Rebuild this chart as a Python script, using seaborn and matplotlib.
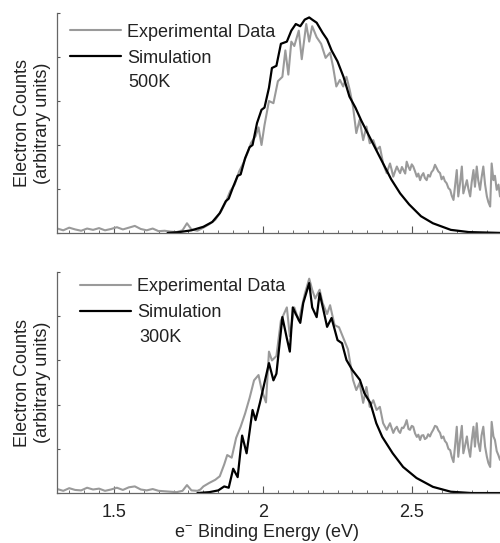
import pandas as pd
import seaborn as sns
import matplotlib.pyplot as plt
from matplotlib.ticker import MultipleLocator, FuncFormatter

# values (x in eV, y in arbitrary units, axis 0..5)
top_exp_x = [1.31, 1.33, 1.35, 1.37, 1.39, 1.41, 1.43, 1.45, 1.47, 1.49, 1.51, 1.53, 1.55, 1.57, 1.59,
             1.61, 1.63, 1.65, 1.67, 1.69, 1.71, 1.73, 1.745, 1.76, 1.78, 1.80, 1.82, 1.84, 1.86, 1.875,
             1.89, 1.905, 1.92, 1.935, 1.95, 1.96, 1.975, 1.985, 1.995, 2.005, 2.02, 2.035, 2.05, 2.065,
             2.075, 2.085, 2.095, 2.105, 2.12, 2.13, 2.145, 2.155, 2.165, 2.18, 2.195, 2.21,
             2.225, 2.235, 2.246, 2.258, 2.269, 2.280, 2.291, 2.302, 2.313, 2.324, 2.336, 2.347, 2.358,
             2.370, 2.381, 2.392, 2.403, 2.415, 2.426, 2.431, 2.437, 2.443, 2.449, 2.455, 2.460, 2.466,
             2.471, 2.477, 2.482, 2.488, 2.493, 2.499, 2.504, 2.510, 2.516, 2.521, 2.527, 2.532, 2.538,
             2.543, 2.549, 2.554, 2.560, 2.565, 2.571, 2.577, 2.583, 2.588, 2.594, 2.599, 2.605, 2.610,
             2.616, 2.622, 2.628, 2.633, 2.639, 2.644, 2.650, 2.655, 2.661, 2.667, 2.672, 2.678, 2.684,
             2.689, 2.695, 2.700, 2.706, 2.711, 2.717, 2.722, 2.728, 2.733, 2.739, 2.745, 2.751, 2.756,
             2.762, 2.767, 2.773, 2.778, 2.784, 2.790, 2.795]
top_exp_y = [0.10, 0.06, 0.12, 0.08, 0.05, 0.10, 0.07, 0.11, 0.06, 0.09, 0.13, 0.08, 0.12, 0.16, 0.09,
             0.06, 0.10, 0.04, 0.05, 0.03, 0.02, 0.06, 0.22, 0.08, 0.05, 0.12, 0.20, 0.30, 0.50, 0.70,
             0.95, 1.10, 1.40, 1.60, 1.85, 2.05, 2.20, 2.40, 2.00, 2.45, 3.00, 2.95, 3.45, 3.55,
             4.15, 3.60, 4.35, 4.25, 4.60, 3.95, 4.75, 4.35, 4.70, 4.45, 4.30, 3.98,
             4.10, 3.78, 3.33, 3.48, 3.33, 3.55, 3.25, 2.87, 2.27, 2.57, 2.11, 2.42, 2.04,
             2.11, 1.89, 1.96, 1.58, 1.36, 1.58, 1.45, 1.28, 1.40, 1.51, 1.42, 1.36, 1.50,
             1.43, 1.35, 1.62, 1.50, 1.43, 1.56, 1.51, 1.40, 1.28, 1.35, 1.20, 1.30, 1.36,
             1.25, 1.20, 1.32, 1.28, 1.38, 1.43, 1.55, 1.47, 1.40, 1.36, 1.22, 1.28, 1.18,
             1.13, 1.02, 0.98, 0.85, 0.75, 1.05, 1.43, 0.83, 1.13, 1.51, 0.90, 1.05, 1.20,
             1.00, 0.83, 1.15, 1.43, 1.05, 1.51, 1.20, 0.98, 1.25, 1.51, 1.10, 0.83, 0.70,
             0.60, 1.58, 1.20, 1.30, 0.98, 1.10, 0.83]

top_sim_x = [1.68, 1.72, 1.76, 1.80, 1.83, 1.855, 1.875, 1.885, 1.90, 1.915, 1.925, 1.94, 1.955, 1.965,
             1.98, 1.995, 2.005, 2.02, 2.03, 2.045, 2.06, 2.08, 2.095, 2.11, 2.125, 2.14, 2.155, 2.165,
             2.18, 2.20, 2.215, 2.23, 2.25, 2.27, 2.29, 2.31, 2.33, 2.36, 2.39, 2.43, 2.46, 2.49, 2.53,
             2.57, 2.63, 2.69, 2.80]
top_sim_y = [0.0, 0.02, 0.06, 0.14, 0.25, 0.45, 0.72, 0.78, 1.05, 1.30, 1.33, 1.70, 1.95, 2.00,
             2.50, 2.80, 2.85, 3.30, 3.75, 3.80, 4.30, 4.35, 4.60, 4.75, 4.70, 4.85, 4.90, 4.85,
             4.78, 4.55, 4.40, 4.15, 3.90, 3.55, 3.10, 2.85, 2.55, 2.15, 1.75, 1.22, 0.90, 0.65, 0.38,
             0.22, 0.07, 0.02, 0.0]

bot_exp_x = [1.31, 1.33, 1.35, 1.37, 1.39, 1.41, 1.43, 1.45, 1.47, 1.49, 1.51, 1.53, 1.55, 1.57, 1.59,
             1.61, 1.63, 1.65, 1.67, 1.69, 1.71, 1.73, 1.745, 1.76, 1.78, 1.79, 1.80, 1.82, 1.84, 1.855,
             1.87, 1.88, 1.895, 1.91, 1.925, 1.94, 1.955, 1.97, 1.985, 1.995, 2.01, 2.02, 2.03, 2.045,
             2.06, 2.08, 2.09, 2.105, 2.12, 2.14, 2.155, 2.165, 2.175, 2.19, 2.20, 2.215,
             2.225, 2.24, 2.255, 2.27, 2.285, 2.302, 2.313, 2.324, 2.336, 2.347, 2.358,
             2.370, 2.381, 2.392, 2.403, 2.415, 2.426, 2.431, 2.437, 2.443, 2.449, 2.455, 2.460, 2.466,
             2.471, 2.477, 2.482, 2.488, 2.493, 2.499, 2.504, 2.510, 2.516, 2.521, 2.527, 2.532, 2.538,
             2.543, 2.549, 2.554, 2.560, 2.565, 2.571, 2.577, 2.583, 2.588, 2.594, 2.599, 2.605, 2.610,
             2.616, 2.622, 2.628, 2.633, 2.639, 2.644, 2.650, 2.655, 2.661, 2.667, 2.672, 2.678, 2.684,
             2.689, 2.695, 2.700, 2.706, 2.711, 2.717, 2.722, 2.728, 2.733, 2.739, 2.745, 2.751, 2.756,
             2.762, 2.767, 2.773, 2.778, 2.784, 2.790, 2.795]
bot_exp_y = [0.09, 0.05, 0.11, 0.07, 0.06, 0.12, 0.08, 0.10, 0.05, 0.08, 0.12, 0.07, 0.13, 0.15, 0.08,
             0.06, 0.09, 0.05, 0.04, 0.03, 0.02, 0.05, 0.18, 0.06, 0.05, 0.08, 0.15, 0.23, 0.30, 0.38,
             0.65, 0.86, 0.80, 1.25, 1.50, 1.80, 2.15, 2.55, 2.67, 2.35, 2.05, 3.20, 3.00, 3.10,
             3.90, 4.20, 3.55, 4.20, 3.90, 4.50, 4.85, 4.60, 4.40, 4.60, 4.30, 4.05,
             4.25, 3.80, 3.75, 3.50, 3.25, 2.56, 2.33, 2.49, 2.04, 2.40, 1.95,
             2.10, 1.88, 1.95, 1.58, 1.43, 1.58, 1.48, 1.36, 1.45, 1.50, 1.40, 1.36, 1.48,
             1.47, 1.55, 1.65, 1.45, 1.43, 1.52, 1.50, 1.35, 1.27, 1.32, 1.20, 1.30, 1.31,
             1.22, 1.25, 1.33, 1.28, 1.36, 1.43, 1.52, 1.50, 1.42, 1.36, 1.24, 1.28, 1.18,
             1.13, 1.00, 0.97, 0.82, 0.70, 1.05, 1.50, 0.82, 1.20, 1.52, 0.90, 1.08, 1.28,
             1.02, 0.82, 1.18, 1.50, 1.05, 1.58, 1.15, 0.95, 1.30, 1.50, 1.05, 0.82, 0.68,
             0.59, 1.61, 1.28, 1.20, 0.95, 0.85, 0.75]

bot_sim_x = [1.78, 1.82, 1.85, 1.87, 1.885, 1.90, 1.915, 1.93, 1.945, 1.965, 1.975, 1.99, 2.02, 2.035,
             2.045, 2.065, 2.08, 2.09, 2.10, 2.11, 2.125, 2.135, 2.155, 2.165, 2.18, 2.19, 2.205, 2.215,
             2.23, 2.25, 2.265, 2.28, 2.30, 2.325, 2.34, 2.36, 2.38, 2.40, 2.435, 2.47, 2.515, 2.57,
             2.63, 2.70, 2.80]
bot_sim_y = [0.0, 0.02, 0.06, 0.15, 0.12, 0.55, 0.36, 1.30, 0.90, 1.88, 1.65, 2.05, 2.94, 2.55,
             2.70, 3.98, 3.50, 3.20, 4.20, 4.05, 3.85, 4.30, 4.75, 4.20, 3.98, 4.52, 4.07, 3.76,
             3.96, 3.46, 3.39, 3.01, 2.78, 2.56, 2.26, 2.04, 1.58, 1.27, 0.90, 0.59, 0.34, 0.14,
             0.03, 0.0, 0.0]

panels = [
    (top_exp_x, top_exp_y, top_sim_x, top_sim_y, "500K"),
    (bot_exp_x, bot_exp_y, bot_sim_x, bot_sim_y, "300K"),
]

sns.set_style("white")
plt.rcParams['font.family'] = ['Liberation Sans', 'DejaVu Sans']
plt.rcParams['font.size'] = 13
plt.rcParams['text.color'] = '#222222'
plt.rcParams['axes.labelcolor'] = '#222222'
plt.rcParams['xtick.color'] = '#222222'
plt.rcParams['mathtext.fontset'] = 'custom'
plt.rcParams['mathtext.rm'] = 'Liberation Sans'

fig = plt.figure(figsize=(5, 5.43), dpi=100)
ax_top = fig.add_axes([0.114, 0.571, 0.886, 0.405])
ax_bot = fig.add_axes([0.114, 0.092, 0.886, 0.407])

legend_pos = [(0.029, 0.952), (0.052, 0.972)]
temp_pos = [(0.160, 0.685), (0.187, 0.706)]

for i, (ax, (ex, ey, sx, sy, temp)) in enumerate(zip([ax_top, ax_bot], panels)):
    exp = pd.DataFrame({"x": ex, "y": ey})
    sim = pd.DataFrame({"x": sx, "y": sy})
    sns.lineplot(x="x", y="y", data=exp, ax=ax, color="#9a9a9a", lw=1.5, label="Experimental Data")
    sns.lineplot(x="x", y="y", data=sim, ax=ax, color="black", lw=1.6, label="Simulation")

    ax.set_xlim(1.309, 2.795)
    ax.set_ylim(0, 5)
    ax.set_yticks(range(6))
    ax.set_yticklabels([])
    ax.xaxis.set_major_locator(MultipleLocator(0.5))
    ax.xaxis.set_minor_locator(MultipleLocator(0.05))
    ax.xaxis.set_major_formatter(FuncFormatter(lambda v, p: "%g" % v))
    ax.tick_params(axis='x', which='major', direction='in', length=5, color='#555555', pad=8,
                   labelsize=13)
    ax.tick_params(axis='x', which='minor', direction='in', length=2.5, color='#555555')
    ax.tick_params(axis='y', direction='in', length=2.5, color='#555555', left=True)
    ax.tick_params(axis='x', bottom=True, which='both')
    for s in ['top', 'right']:
        ax.spines[s].set_visible(False)
    for s in ['left', 'bottom']:
        ax.spines[s].set_color('#666666')
        ax.spines[s].set_linewidth(0.9)

    ax.set_ylabel("Electron Counts\n(arbitrary units)", fontsize=13, labelpad=1)
    ax.legend(loc='upper left', bbox_to_anchor=legend_pos[i], frameon=False, fontsize=13,
              handlelength=2.85, handletextpad=0.3, labelspacing=0.5, borderpad=0, borderaxespad=0)
    ax.text(temp_pos[i][0], temp_pos[i][1], temp, transform=ax.transAxes, fontsize=13,
            ha='left', va='center')

ax_top.set_xlabel("")
ax_top.set_xticklabels([])
ax_bot.set_xlabel("e$^{-}$ Binding Energy (eV)", fontsize=13)
ax_bot.xaxis.label.set_va('center')
ax_bot.xaxis.set_label_coords(0.472, -0.178)

fig.savefig("out.png", dpi=100)
